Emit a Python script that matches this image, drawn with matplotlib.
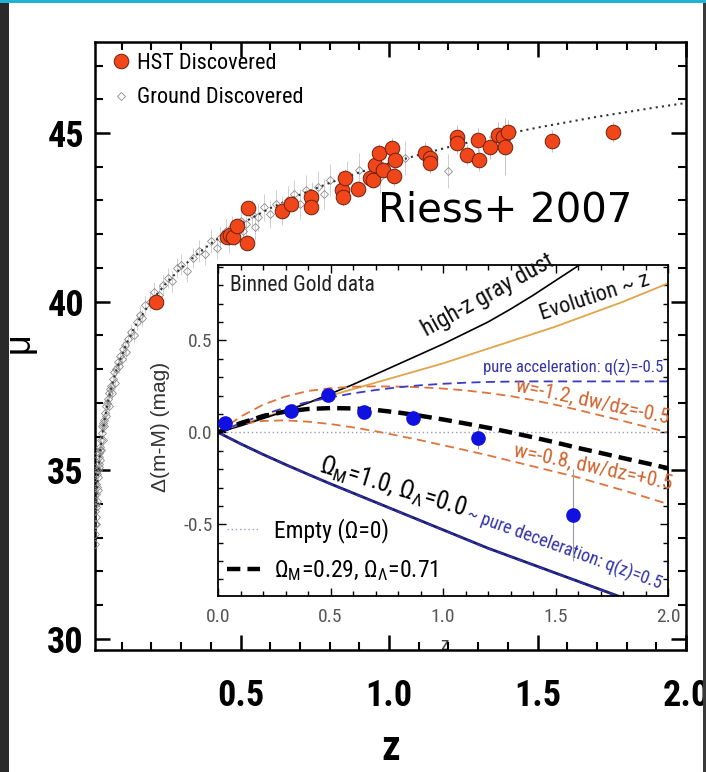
import matplotlib
matplotlib.use("Agg")
import matplotlib.pyplot as plt
from matplotlib import font_manager as fm
from matplotlib.ticker import MultipleLocator, FixedLocator
from matplotlib.patches import Rectangle
from matplotlib.lines import Line2D

# ---------------------------------------------------------------- fonts
_installed = {f.name for f in fm.fontManager.ttflist}


def pick(*names):
    for n in names:
        if n in _installed:
            return n
    return "DejaVu Sans"


NARROW = pick("Liberation Sans Narrow", "Roboto Condensed", "Open Sans Condensed",
              "Liberation Sans")
SANS = pick("Liberation Sans", "Arial", "DejaVu Sans")

plt.rcParams["font.family"] = [NARROW, "DejaVu Sans"]
plt.rcParams["mathtext.fontset"] = "custom"
plt.rcParams["mathtext.rm"] = NARROW
plt.rcParams["mathtext.it"] = NARROW + ":italic"
plt.rcParams["mathtext.bf"] = NARROW + ":bold"

# ---------------------------------------------------------------- Hubble diagram data
hst_z = [0.215, 0.453, 0.465, 0.476, 0.487, 0.521, 0.524, 0.639, 0.669, 0.736,
         0.736, 0.841, 0.845, 0.852, 0.897, 0.936, 0.947, 0.953, 0.967, 0.981,
         1.009, 1.020, 1.017, 1.121, 1.138, 1.138, 1.228, 1.230, 1.262, 1.301,
         1.304, 1.340, 1.368, 1.385, 1.390, 1.402, 1.550, 1.753]
hst_mu = [40.00, 41.91, 41.98, 41.93, 42.24, 41.75, 42.79, 42.70, 42.90, 43.09,
          42.82, 43.31, 43.09, 43.66, 43.35, 43.66, 43.61, 44.05, 44.40, 43.90,
          44.55, 44.20, 43.72, 44.40, 44.25, 44.10, 44.89, 44.69, 44.35, 44.79,
          44.20, 44.59, 44.94, 44.89, 44.59, 45.04, 44.76, 45.04]
hst_err = [0.20, 0.20, 0.22, 0.18, 0.25, 0.22, 0.20, 0.24, 0.22, 0.25,
           0.22, 0.25, 0.25, 0.28, 0.24, 0.30, 0.25, 0.30, 0.28, 0.26,
           0.30, 0.28, 0.30, 0.32, 0.30, 0.28, 0.35, 0.30, 0.30, 0.35,
           0.32, 0.35, 0.40, 0.35, 0.85, 0.35, 0.33, 0.30]

gnd_z = [0.010, 0.010, 0.011, 0.011, 0.012, 0.012, 0.013, 0.014, 0.015, 0.015, 0.016, 0.017,
         0.018, 0.019, 0.020, 0.021, 0.022, 0.023, 0.024, 0.025, 0.026, 0.027, 0.028,
         0.030, 0.031, 0.033, 0.035, 0.036, 0.038, 0.040, 0.042, 0.044, 0.046, 0.048, 0.050,
         0.053, 0.056, 0.058, 0.060, 0.063, 0.066, 0.070, 0.074, 0.078, 0.082, 0.086, 0.090,
         0.095, 0.100,
         0.105, 0.110, 0.116, 0.122, 0.130, 0.140, 0.150, 0.160, 0.170, 0.180, 0.195,
         0.210, 0.225, 0.240, 0.255, 0.270, 0.285, 0.300,
         0.320, 0.340, 0.360, 0.380, 0.400, 0.420, 0.430, 0.450, 0.460, 0.470, 0.480, 0.500,
         0.510, 0.520, 0.540, 0.550, 0.560, 0.580, 0.600, 0.620, 0.640, 0.660, 0.680, 0.700,
         0.720, 0.740, 0.760, 0.780, 0.800, 0.830, 0.860, 0.900, 0.950, 0.970, 1.054, 1.200]
gnd_mu = [32.8, 33.4, 33.1, 33.8, 33.4, 34.0, 33.9, 33.6, 34.3, 34.6, 34.1, 34.5,
          34.9, 34.4, 35.0, 34.8, 35.2, 35.4, 35.1, 35.5, 35.3, 35.7, 35.6,
          35.9, 35.6, 36.1, 36.3, 35.9, 36.4, 36.5, 36.3, 36.7, 36.9, 36.6, 37.0,
          37.1, 37.3, 36.9, 37.4, 37.5, 37.3, 37.7, 37.9, 37.6, 38.0, 38.2, 38.1,
          38.4, 38.3,
          38.6, 38.7, 38.5, 38.9, 39.1, 39.0, 39.4, 39.6, 39.5, 39.9, 40.0,
          40.3, 40.2, 40.5, 40.7, 40.6, 41.0, 41.1,
          40.9, 41.3, 41.5, 41.4, 41.8, 41.6, 41.9, 42.1, 41.8, 42.2, 42.0, 42.4,
          42.1, 42.3, 42.6, 42.2, 42.5, 42.8, 42.6, 42.9, 42.7, 43.0, 43.2, 42.9,
          43.3, 43.1, 43.4, 43.2, 43.6, 43.4, 43.7, 43.9, 44.0, 43.7, 44.25, 43.87]
gnd_err = [0.20, 0.18, 0.20, 0.22, 0.18, 0.20, 0.20, 0.18, 0.20, 0.22, 0.18, 0.20,
           0.18, 0.20, 0.18, 0.20, 0.18, 0.20, 0.18, 0.20, 0.18, 0.20, 0.18,
           0.18, 0.20, 0.18, 0.20, 0.18, 0.20, 0.18, 0.20, 0.18, 0.20, 0.18, 0.20,
           0.18, 0.20, 0.18, 0.20, 0.18, 0.20, 0.20, 0.22, 0.20, 0.22, 0.20, 0.22,
           0.20, 0.22,
           0.22, 0.24, 0.22, 0.24, 0.25, 0.24, 0.25, 0.26, 0.25, 0.26, 0.28,
           0.28, 0.30, 0.28, 0.30, 0.32, 0.30, 0.32,
           0.32, 0.30, 0.34, 0.32, 0.35, 0.33, 0.35, 0.34, 0.36, 0.35, 0.36, 0.38,
           0.36, 0.38, 0.40, 0.38, 0.40, 0.40, 0.42, 0.40, 0.42, 0.44, 0.42, 0.45,
           0.45, 0.44, 0.46, 0.45, 0.48, 0.46, 0.48, 0.50, 0.50, 0.48, 0.50, 0.50]

model_z = [0.010, 0.015, 0.020, 0.025, 0.030, 0.040, 0.050, 0.060, 0.070, 0.080,
           0.100, 0.120, 0.150, 0.200, 0.250, 0.300, 0.350, 0.400, 0.450, 0.500,
           0.550, 0.600, 0.700, 0.800, 0.900, 1.000, 1.100, 1.200, 1.300, 1.400,
           1.500, 1.600, 1.700, 1.800, 1.900, 2.000]
model_mu = [33.35, 34.23, 34.86, 35.35, 35.75, 36.38, 36.87, 37.27, 37.61, 37.91,
            38.41, 38.83, 39.35, 40.02, 40.55, 41.00, 41.38, 41.72, 42.02, 42.29,
            42.54, 42.77, 43.17, 43.52, 43.83, 44.10, 44.35, 44.58, 44.79, 44.98,
            45.16, 45.32, 45.48, 45.62, 45.76, 45.89]

main_xticks = [0.5, 1.0, 1.5, 2.0]
main_xticklabels = ["0.5", "1.0", "1.5", "2.0"]
main_yticks = [30, 35, 40, 45]
main_yticklabels = ["30", "35", "40", "45"]

# ---------------------------------------------------------------- residual (inset) data
bin_z = [0.031, 0.324, 0.490, 0.649, 0.868, 1.154, 1.576]
bin_dmu = [0.050, 0.118, 0.204, 0.110, 0.080, -0.030, -0.452]
bin_err = [0.03, 0.03, 0.04, 0.04, 0.04, 0.06, 0.25]

curve_z = [0.0, 0.1, 0.2, 0.3, 0.4, 0.5, 0.6, 0.7, 0.8, 0.9, 1.0,
           1.1, 1.2, 1.3, 1.4, 1.5, 1.6, 1.7, 1.8, 1.9, 2.0]
lcdm_d = [0.0, 0.050, 0.088, 0.113, 0.127, 0.132, 0.130, 0.122, 0.108, 0.090, 0.070,
          0.048, 0.025, 0.000, -0.027, -0.055, -0.085, -0.112, -0.140, -0.167, -0.195]
eds_d = [0.0, -0.062, -0.120, -0.175, -0.228, -0.280, -0.330, -0.380, -0.430, -0.480, -0.530,
         -0.580, -0.630, -0.675, -0.720, -0.765, -0.810, -0.855, -0.900, -0.945, -0.990]
decel_d = [0.0, -0.064, -0.122, -0.177, -0.230, -0.282, -0.332, -0.382, -0.432, -0.482, -0.532,
           -0.582, -0.632, -0.677, -0.722, -0.767, -0.812, -0.857, -0.902, -0.947, -0.992]
accel_d = [0.0, 0.050, 0.095, 0.135, 0.165, 0.190, 0.212, 0.230, 0.245, 0.256, 0.264,
           0.270, 0.274, 0.276, 0.277, 0.277, 0.277, 0.277, 0.277, 0.277, 0.277]
wneg_d = [0.0, 0.085, 0.150, 0.195, 0.225, 0.240, 0.248, 0.250, 0.249, 0.245, 0.238,
          0.228, 0.214, 0.197, 0.175, 0.150, 0.122, 0.092, 0.062, 0.031, 0.000]
wpos_d = [0.0, 0.045, 0.062, 0.065, 0.058, 0.045, 0.027, 0.006, -0.018, -0.043, -0.070,
          -0.097, -0.125, -0.155, -0.185, -0.215, -0.245, -0.280, -0.315, -0.352, -0.390]
dust_d = [0.0, 0.035, 0.075, 0.115, 0.160, 0.210, 0.260, 0.315, 0.370, 0.425, 0.480,
          0.540, 0.600, 0.670, 0.745, 0.825, 0.905, 0.985, 1.065, 1.145, 1.225]
evol_d = [0.0, 0.040, 0.080, 0.120, 0.160, 0.200, 0.235, 0.270, 0.305, 0.340, 0.375,
          0.415, 0.455, 0.495, 0.535, 0.575, 0.620, 0.665, 0.710, 0.760, 0.810]
empty_z = [0.0, 2.0]
empty_d = [0.0, 0.0]

inset_ticks = [0.0, 0.5, 1.0, 1.5, 2.0]
inset_yticks = [-0.5, 0.0, 0.5]

# ---------------------------------------------------------------- figure
W, H = 706, 772
fig = plt.figure(figsize=(W / 100, H / 100), dpi=100)
fig.patch.set_facecolor("white")

# slide frame around the picture
fig.add_artist(Rectangle((0, 1 - 3 / H), 1, 3 / H, transform=fig.transFigure,
                         facecolor="#22b2d6", lw=0, zorder=10))
fig.add_artist(Rectangle((0, 0), 9 / W, 1 - 3 / H, transform=fig.transFigure,
                         facecolor="#2a2a2a", lw=0, zorder=10))
fig.add_artist(Rectangle((703 / W, 0), 3 / W, 1 - 3 / H, transform=fig.transFigure,
                         facecolor="#3a3a3a", lw=0, zorder=10))

ax = fig.add_axes([95 / W, 1 - 650 / H, 591 / W, 608.4 / H])
ax.set_facecolor("none")
ax.set_zorder(3)

axi = fig.add_axes([218 / W, 1 - 596 / H, 450 / W, 331 / H])
axi.set_facecolor("white")
axi.set_zorder(2)

# ---------------------------------------------------------------- Hubble diagram
ax.errorbar(gnd_z, gnd_mu, yerr=gnd_err, fmt="none", ecolor="#444444",
            elinewidth=0.5, alpha=0.35, zorder=2)
ax.plot(gnd_z, gnd_mu, ls="none", marker="D", ms=4.5, mfc="none", mec="#8c8c8c",
        mew=0.6, zorder=3, label="Ground Discovered")
ax.plot(model_z, model_mu, ls=(0, (1, 2)), color="#333333", lw=1.5, zorder=4)
ax.errorbar(hst_z, hst_mu, yerr=hst_err, fmt="none", ecolor="#c4c4c4",
            elinewidth=0.7, zorder=4)
ax.plot(hst_z, hst_mu, ls="none", marker="o", ms=10.5, mfc="#F0461A", mec="#6e200e",
        mew=0.7, zorder=5, label="HST Discovered")

ax.set_xlim(0.0101, 2.0)
ax.set_ylim(29.67, 47.71)
ax.xaxis.set_major_locator(FixedLocator(main_xticks))
ax.xaxis.set_minor_locator(MultipleLocator(0.1))
ax.yaxis.set_major_locator(FixedLocator(main_yticks))
ax.yaxis.set_minor_locator(MultipleLocator(1))
ax.set_xticklabels(main_xticklabels, fontsize=26, fontweight="bold")
ax.set_yticklabels(main_yticklabels, fontsize=26, fontweight="bold")
ax.tick_params(which="both", direction="in", top=True, right=True, width=1.8)
ax.tick_params(which="major", length=11)
ax.tick_params(which="minor", length=6, width=1.5)
ax.tick_params(axis="x", pad=20)
ax.tick_params(axis="y", pad=8)
for s in ax.spines.values():
    s.set_linewidth(1.8)

ax.set_xlabel("z", fontsize=30, fontweight="bold")
ax.xaxis.label.set_va("baseline")
ax.xaxis.set_label_coords(0.5, -0.181)
ax.set_ylabel("μ", fontsize=26, family=SANS)
ax.yaxis.label.set_va("center")
ax.yaxis.set_label_coords(-0.128, 0.506)

h, l = ax.get_legend_handles_labels()
ax.legend([h[1], h[0]], [l[1], l[0]], loc="upper left", bbox_to_anchor=(0.024, 0.981),
          frameon=False, fontsize=16, handlelength=1.05, handletextpad=0.2,
          labelspacing=0.6, borderpad=0, borderaxespad=0, markerscale=1.0)

fig.text(378 / W, 1 - 222 / H, "Riess+ 2007", fontsize=29, family="DejaVu Sans",
         ha="left", va="baseline", color="black")

# ---------------------------------------------------------------- inset residuals
axi.plot(empty_z, empty_d, ls=(0, (1, 2)), color="#9a9ac4", lw=1.0)
axi.plot(curve_z, evol_d, color="#E2A448", lw=1.3)
axi.plot(curve_z, dust_d, color="black", lw=1.2)
axi.plot(curve_z, wneg_d, ls=(0, (5, 3)), color="#E0733C", lw=1.3)
axi.plot(curve_z, wpos_d, ls=(0, (5, 3)), color="#E0733C", lw=1.3)
axi.plot(curve_z, accel_d, ls=(0, (5, 3)), color="#3a3ac4", lw=1.3)
axi.plot(curve_z, eds_d, color="#1c1c5c", lw=2.0)
axi.plot(curve_z, decel_d, ls=(0, (4, 2)), color="#3030b8", lw=1.3)
axi.plot(curve_z, lcdm_d, ls=(0, (3, 1.6)), color="black", lw=3.2)
axi.errorbar(bin_z, bin_dmu, yerr=bin_err, fmt="o", ms=9.5, color="#1010e0",
             ecolor="#9a9a9a", elinewidth=0.8, mec="#1010e0", zorder=6)

axi.set_xlim(0.0, 2.0)
axi.set_ylim(-0.89, 0.91)
axi.xaxis.set_major_locator(FixedLocator(inset_ticks))
axi.xaxis.set_minor_locator(MultipleLocator(0.1))
axi.yaxis.set_major_locator(FixedLocator(inset_yticks))
axi.yaxis.set_minor_locator(MultipleLocator(0.1))
axi.set_xticklabels(["0.0", "0.5", "1.0", "1.5", "2.0"])
axi.set_yticklabels(["-0.5", "0.0", "0.5"])
axi.tick_params(which="both", direction="in", top=True, right=True, width=1.0,
                labelsize=14, labelcolor="#555555")
axi.tick_params(which="major", length=6)
axi.tick_params(which="minor", length=3.5)
axi.tick_params(axis="x", pad=9)
axi.tick_params(axis="y", pad=4)
for s in axi.spines.values():
    s.set_linewidth(1.3)
axi.set_ylabel("Δ(m-M) (mag)", fontsize=15, family=SANS, color="#333333")
axi.yaxis.set_label_coords(-0.107, 0.51)
axi.set_xlabel("z", fontsize=14, color="#444444")
axi.xaxis.label.set_va("baseline")
axi.xaxis.set_label_coords(0.504, -0.163)

axi.text(0.053, 0.80, "Binned Gold data", fontsize=15.5, ha="left", va="center",
         color="#222222")
axi.text(1.20, 0.745, "high-z gray dust", fontsize=17, rotation=29,
         rotation_mode="anchor", ha="center", va="center", color="#111111")
axi.text(1.676, 0.735, "Evolution ~ z", fontsize=16, rotation=18,
         rotation_mode="anchor", ha="center", va="center", color="#111111")
axi.text(1.578, 0.356, "pure acceleration: q(z)=-0.5", fontsize=12, ha="center",
         va="center", color="#3333aa")
axi.text(1.662, 0.165, "w=-1.2, dw/dz=-0.5", fontsize=15, rotation=-12,
         rotation_mode="anchor", ha="center", va="center", color="#d0652f")
axi.text(1.664, -0.19, "w=-0.8, dw/dz=+0.5", fontsize=15, rotation=-12,
         rotation_mode="anchor", ha="center", va="center", color="#d0652f")
axi.text(0.776, -0.30, r"Ω$_\mathrm{M}$=1.0, Ω$_\mathrm{Λ}$=0.0", fontsize=18,
         rotation=-17, rotation_mode="anchor", ha="center", va="center", color="black")
axi.text(1.54, -0.635, "~ pure deceleration: q(z)=0.5", fontsize=13, rotation=-20,
         rotation_mode="anchor", ha="center", va="center", color="#3333aa")

leg_handles = [Line2D([], [], ls=(0, (1, 2)), color="#9a9ac4", lw=1.0),
               Line2D([], [], ls=(0, (3, 1.6)), color="black", lw=3.2)]
leg_labels = ["Empty (Ω=0)", r"Ω$_\mathrm{M}$=0.29, Ω$_\mathrm{Λ}$=0.71"]
axi.legend(leg_handles, leg_labels, loc="lower left", bbox_to_anchor=(0.02, 0.039),
           frameon=False, fontsize=17, handlelength=1.4, handletextpad=0.6,
           labelspacing=0.65, borderpad=0, borderaxespad=0)

fig.savefig("out.png", dpi=100, facecolor="white")
